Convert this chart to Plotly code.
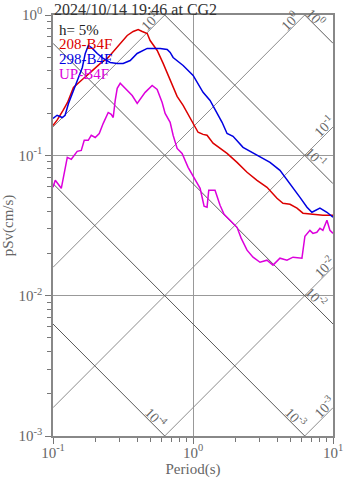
import numpy as np
import plotly.graph_objects as go

title_text = "2024/10/14 19:46 at CG2"
damping_text = "h= 5%"
series_names = ["208-B4F", "298-B4F", "UP-B4F"]
series_colors = ["rgb(220,0,0)", "rgb(0,0,225)", "rgb(220,0,220)"]

period_208 = [0.100, 0.107, 0.118, 0.127, 0.140, 0.152, 0.165, 0.185, 0.218, 0.248, 0.288, 0.339, 0.374, 0.406,
              0.434, 0.471, 0.494, 0.555, 0.612, 0.687, 0.770, 0.850, 0.954, 1.035, 1.087, 1.180, 1.260, 1.391,
              1.560, 1.751, 2.063, 2.432, 2.866, 3.377, 3.98, 4.39, 4.93, 5.53, 6.10, 7.19, 8.47, 10.0]
psv_208 = [0.163, 0.178, 0.209, 0.238, 0.305, 0.326, 0.353, 0.390, 0.452, 0.498, 0.587, 0.715, 0.763, 0.788,
           0.763, 0.738, 0.658, 0.559, 0.452, 0.342, 0.263, 0.227, 0.183, 0.156, 0.146, 0.141, 0.139, 0.122,
           0.112, 0.1033, 0.0891, 0.0757, 0.0664, 0.0592, 0.0494, 0.0455, 0.0448, 0.0420, 0.0387, 0.0380, 0.0374, 0.0374]

period_298 = [0.100, 0.107, 0.1165, 0.122, 0.129, 0.137, 0.149, 0.162, 0.170, 0.179, 0.191, 0.207, 0.2285, 0.256,
              0.2875, 0.317, 0.356, 0.399, 0.471, 0.583, 0.654, 0.687, 0.721, 0.850, 1.002, 1.180, 1.324, 1.486,
              1.613, 1.751, 1.932, 2.277, 2.866, 3.548, 4.18, 4.93, 5.81, 6.52, 7.07, 8.07, 9.05, 10.0]
psv_298 = [0.183, 0.193, 0.186, 0.193, 0.234, 0.276, 0.342, 0.423, 0.532, 0.607, 0.578, 0.532, 0.490, 0.459,
           0.452, 0.452, 0.474, 0.532, 0.578, 0.578, 0.568, 0.541, 0.498, 0.437, 0.371, 0.281, 0.246, 0.199,
           0.172, 0.143, 0.1365, 0.114, 0.100, 0.0891, 0.0782, 0.0632, 0.0502, 0.0427, 0.0393, 0.0420, 0.0393, 0.0362]

period_up = [0.100, 0.1038, 0.1146, 0.1265, 0.1351, 0.1489, 0.1592, 0.1672, 0.1786, 0.1876, 0.2003, 0.2139, 0.2285,
             0.248, 0.2605, 0.2692, 0.2782, 0.2875, 0.302, 0.3225, 0.3444, 0.3679, 0.3994, 0.4265, 0.4553, 0.5108,
             0.5546, 0.6021, 0.6324, 0.6866, 0.7211, 0.7703, 0.8359, 0.9226, 1.035, 1.124, 1.200, 1.260, 1.296,
             1.437, 1.560, 1.667, 1.839, 2.063, 2.207, 2.432, 2.684, 3.011, 3.377, 3.727, 4.18, 4.69, 5.18, 6.00,
             6.30, 6.84, 7.19, 7.67, 8.07, 8.47, 9.05, 9.51, 10.0]
psv_up = [0.0592, 0.0664, 0.0582, 0.0968, 0.0937, 0.1068, 0.1085, 0.128, 0.128, 0.139, 0.134, 0.143, 0.169,
          0.202, 0.196, 0.186, 0.246, 0.300, 0.326, 0.305, 0.281, 0.267, 0.234, 0.255, 0.281, 0.315,
          0.295, 0.238, 0.199, 0.172, 0.139, 0.112, 0.1033, 0.0821, 0.0664, 0.0582, 0.0434, 0.0427, 0.0564,
          0.0564, 0.0441, 0.0380, 0.0345, 0.0307, 0.0257, 0.0211, 0.0188, 0.0173, 0.0179, 0.0165, 0.0185, 0.0179,
          0.0188, 0.0185, 0.0265, 0.0292, 0.0278, 0.0283, 0.0302, 0.0292, 0.0345, 0.0292, 0.0278]

# tripartite guide levels
accel_levels = [1e1, 1e0, 1e-1, 1e-2, 1e-3]
accel_labels = ["10<sup>1</sup>", "10<sup>0</sup>", "10<sup>-1</sup>", "10<sup>-2</sup>", "10<sup>-3</sup>"]
disp_levels = [1e0, 1e-1, 1e-2, 1e-3, 1e-4]
disp_labels = ["10<sup>0</sup>", "10<sup>-1</sup>", "10<sup>-2</sup>", "10<sup>-3</sup>", "10<sup>-4</sup>"]

tick_vals = [0.001, 0.01, 0.1, 1, 10]
tick_text = ["10<sup>-3</sup>", "10<sup>-2</sup>", "10<sup>-1</sup>", "10<sup>0</sup>", "10<sup>1</sup>"]

x_range = [0.1, 10.0]
y_range = [0.001, 1.0]

FONT = "Liberation Serif"
TWO_PI = 2 * np.pi

fig = go.Figure()

Tline = np.array(x_range)
for A in accel_levels:
    fig.add_trace(go.Scatter(x=Tline, y=A * Tline / TWO_PI, mode="lines",
                             line=dict(color="#8c8c8c", width=1), hoverinfo="skip"))
for D in disp_levels:
    fig.add_trace(go.Scatter(x=Tline, y=TWO_PI * D / Tline, mode="lines",
                             line=dict(color="#5a5a5a", width=1), hoverinfo="skip"))

for T, S, c in zip([period_208, period_298, period_up], [psv_208, psv_298, psv_up], series_colors):
    fig.add_trace(go.Scatter(x=T, y=S, mode="lines", line=dict(color=c, width=1.5), hoverinfo="skip"))

annotations = []
lab_font = dict(family=FONT, size=14, color="#666666")
for A, lab in zip(accel_levels, accel_labels):
    T_top = 0.84 * TWO_PI / A
    if T_top <= 9.3:
        T, S = T_top, 0.84
    else:
        T, S = 9.3, A * 9.3 / TWO_PI
    annotations.append(dict(x=np.log10(T), y=np.log10(S), xref="x", yref="y", text=lab, showarrow=False,
                            textangle=-45, font=lab_font, xshift=-5, yshift=5))
for D, lab in zip(disp_levels, disp_labels):
    S_right = TWO_PI * D / 7.0
    if S_right >= 0.00126:
        T, S = 7.0, S_right
    else:
        S = 0.00126
        T = TWO_PI * D / S
    annotations.append(dict(x=np.log10(T), y=np.log10(S), xref="x", yref="y", text=lab, showarrow=False,
                            textangle=45, font=lab_font, xshift=5, yshift=5))

leg_font = 15
leg_y0 = 1 - 14.5 / 421
leg_dy = 14.7 / 421
annotations.append(dict(x=0.017, y=leg_y0, xref="paper", yref="paper", xanchor="left", yanchor="middle",
                        borderpad=0, text=damping_text, showarrow=False,
                        font=dict(family=FONT, size=leg_font, color="#222222")))
for i, (name, c) in enumerate(zip(series_names, series_colors)):
    annotations.append(dict(x=0.017, y=leg_y0 - (i + 1) * leg_dy, xref="paper", yref="paper", xanchor="left",
                            yanchor="middle", borderpad=0, text=name, showarrow=False,
                            font=dict(family=FONT, size=leg_font, color=c)))

annotations.append(dict(x=0, y=1, xref="paper", yref="paper", xanchor="left", yanchor="bottom", yshift=-4,
                        borderpad=0, text=title_text, showarrow=False,
                        font=dict(family=FONT, size=16, color="#333333")))

minor_x = [m * 10.0 ** e for e in (-1, 0) for m in range(2, 10)]
minor_y = [m * 10.0 ** e for e in (-3, -2, -1) for m in range(2, 10)]

axis_common = dict(type="log", showline=True, mirror=True, linecolor="#888888", linewidth=1.5,
                   showgrid=True, gridcolor="#999999", gridwidth=1.2, zeroline=False, automargin=False,
                   ticks="outside", ticklen=6, tickcolor="#777777", tickwidth=1,
                   tickfont=dict(family=FONT, size=15, color="#666666"))

fig.update_xaxes(range=[np.log10(x_range[0]), np.log10(x_range[1])], tickvals=tick_vals[2:], ticktext=tick_text[2:],
                 ticklabelstandoff=-4,
                 minor=dict(tickvals=minor_x, ticks="outside", ticklen=4, tickcolor="#777777", showgrid=False),
                 title=dict(text="Period(s)", font=dict(family=FONT, size=15, color="#666666"), standoff=4),
                 **axis_common)
fig.update_yaxes(range=[np.log10(y_range[0]), np.log10(y_range[1])], tickvals=tick_vals[:4], ticktext=tick_text[:4],
                 minor=dict(tickvals=minor_y, ticks="outside", ticklen=4, tickcolor="#777777", showgrid=False),
                 title=dict(text="pSv(cm/s)", font=dict(family=FONT, size=15, color="#666666"), standoff=4),
                 **axis_common)

fig.update_layout(width=347, height=478, margin=dict(l=53, r=14, t=15, b=42),
                  paper_bgcolor="white", plot_bgcolor="white", showlegend=False,
                  annotations=annotations, hovermode=False)

fig.write_html("out.html", config={"displayModeBar": False})
